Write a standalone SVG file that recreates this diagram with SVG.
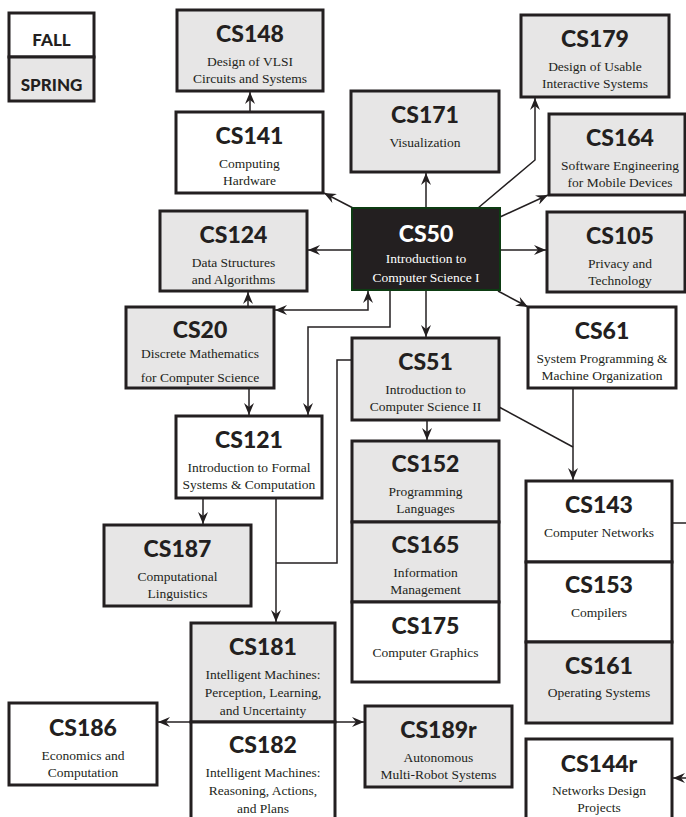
<svg xmlns="http://www.w3.org/2000/svg" width="686" height="817" viewBox="0 0 686 817">
<style>
.fall{fill:#ffffff;stroke:#231f20;stroke-width:3}
.spring{fill:#e7e6e6;stroke:#231f20;stroke-width:3}
.core{fill:#231f20;stroke:#0d3b12;stroke-width:2}
.t{font-family:Lato,"Open Sans",sans-serif;font-weight:900;font-size:23px;fill:#231f20;text-anchor:middle}
.s{font-family:"Liberation Serif",serif;font-size:13.5px;fill:#231f20;text-anchor:middle}
.w{fill:#ffffff}
.lg{font-family:Lato,"Open Sans",sans-serif;font-weight:900;font-size:17px;fill:#231f20;text-anchor:middle}
.c{fill:none;stroke:#231f20;stroke-width:1.5}
</style>
<defs>
<marker id="ah" viewBox="0 0 12 10" refX="12" refY="5" markerWidth="12" markerHeight="10" markerUnits="userSpaceOnUse" orient="auto-start-reverse">
<path d="M0,0 L12,5 L0,10 L4,5 Z" fill="#231f20"/>
</marker>
</defs>
<g id="legend">
<rect class="fall" x="9" y="13" width="85" height="44"/>
<rect class="spring" x="9" y="57" width="85" height="44"/>
<text class="lg" x="51.5" y="46">FALL</text>
<text class="lg" x="51.5" y="91">SPRING</text>
</g>
<g id="connectors">
<line class="c" x1="250" y1="112" x2="250" y2="92" marker-end="url(#ah)"/>
<line class="c" x1="426" y1="208" x2="426" y2="173" marker-end="url(#ah)"/>
<polyline class="c" points="478,208 535,160 535,98" marker-end="url(#ah)"/>
<line class="c" x1="500" y1="217" x2="548" y2="195" marker-end="url(#ah)"/>
<line class="c" x1="353" y1="208" x2="324" y2="193" marker-end="url(#ah)"/>
<line class="c" x1="352" y1="250" x2="308" y2="250" marker-end="url(#ah)"/>
<line class="c" x1="500" y1="250" x2="546" y2="250" marker-end="url(#ah)"/>
<line class="c" x1="498" y1="291" x2="528" y2="307" marker-end="url(#ah)"/>
<line class="c" x1="426" y1="290" x2="426" y2="337" marker-end="url(#ah)"/>
<polyline class="c" points="275,310 368,310 368,291" marker-start="url(#ah)" marker-end="url(#ah)"/>
<line class="c" x1="248" y1="307" x2="248" y2="292" marker-end="url(#ah)"/>
<polyline class="c" points="390,290 390,327 308,327 308,415" marker-end="url(#ah)"/>
<line class="c" x1="249" y1="388" x2="249" y2="415" marker-end="url(#ah)"/>
<line class="c" x1="203" y1="498" x2="203" y2="524" marker-end="url(#ah)"/>
<line class="c" x1="276" y1="498" x2="276" y2="622" marker-end="url(#ah)"/>
<polyline class="c" points="352,360 337,360 337,563 276,563"/>
<line class="c" x1="427" y1="420" x2="427" y2="440" marker-end="url(#ah)"/>
<polyline class="c" points="499,407 573,447"/>
<line class="c" x1="573" y1="388" x2="573" y2="480" marker-end="url(#ah)"/>
<line class="c" x1="672" y1="523" x2="686" y2="523"/>
<line class="c" x1="686" y1="778" x2="673" y2="778" marker-end="url(#ah)"/>
<line class="c" x1="158" y1="722" x2="364" y2="722" marker-start="url(#ah)" marker-end="url(#ah)"/>
</g>
<g id="CS148"><rect class="spring" x="177" y="10" width="146" height="81"/><text class="t" x="250" y="42">CS148</text><text class="s" x="250" y="66">Design of VLSI</text><text class="s" x="250" y="83">Circuits and Systems</text></g>
<g id="CS141"><rect class="fall" x="176" y="112" width="147" height="81"/><text class="t" x="249.5" y="144">CS141</text><text class="s" x="249.5" y="168">Computing</text><text class="s" x="249.5" y="185">Hardware</text></g>
<g id="CS171"><rect class="spring" x="351" y="91" width="148" height="81"/><text class="t" x="425" y="123">CS171</text><text class="s" x="425" y="147">Visualization</text></g>
<g id="CS179"><rect class="spring" x="521" y="15" width="148" height="82"/><text class="t" x="595" y="47">CS179</text><text class="s" x="595" y="71">Design of Usable</text><text class="s" x="595" y="88">Interactive Systems</text></g>
<g id="CS164"><rect class="spring" x="549" y="114" width="136" height="81"/><text class="t" x="620" y="146">CS164</text><text class="s" x="620" y="170">Software Engineering</text><text class="s" x="620" y="187">for Mobile Devices</text></g>
<g id="CS124"><rect class="spring" x="160" y="211" width="147" height="80"/><text class="t" x="233.5" y="243">CS124</text><text class="s" x="233.5" y="267">Data Structures</text><text class="s" x="233.5" y="284">and Algorithms</text></g>
<g id="CS50"><rect class="core" x="352" y="208" width="148" height="82"/><text class="t w" x="426" y="242">CS50</text><text class="s w" x="426" y="263">Introduction to</text><text class="s w" x="426" y="282">Computer Science I</text></g>
<g id="CS105"><rect class="spring" x="547" y="212" width="138" height="80"/><text class="t" x="620" y="244">CS105</text><text class="s" x="620" y="268">Privacy and</text><text class="s" x="620" y="285">Technology</text></g>
<g id="CS20"><rect class="spring" x="126" y="307" width="148" height="81"/><text class="t" x="200" y="338">CS20</text><text class="s" x="200" y="358">Discrete Mathematics</text><text class="s" x="200" y="382">for Computer Science</text></g>
<g id="CS61"><rect class="fall" x="528" y="307" width="148" height="81"/><text class="t" x="602" y="339">CS61</text><text class="s" x="602" y="363">System Programming &amp;</text><text class="s" x="602" y="380">Machine Organization</text></g>
<g id="CS51"><rect class="spring" x="352" y="338" width="147" height="82"/><text class="t" x="425.5" y="370">CS51</text><text class="s" x="425.5" y="394">Introduction to</text><text class="s" x="425.5" y="411">Computer Science II</text></g>
<g id="CS121"><rect class="fall" x="176" y="416" width="146" height="82"/><text class="t" x="249" y="448">CS121</text><text class="s" x="249" y="472">Introduction to Formal</text><text class="s" x="249" y="489">Systems &amp; Computation</text></g>
<g id="CS152"><rect class="spring" x="352" y="441" width="147" height="81"/><text class="t" x="425.5" y="472">CS152</text><text class="s" x="425.5" y="496">Programming</text><text class="s" x="425.5" y="513">Languages</text></g>
<g id="CS165"><rect class="spring" x="352" y="522" width="147" height="80"/><text class="t" x="425.5" y="553">CS165</text><text class="s" x="425.5" y="577">Information</text><text class="s" x="425.5" y="594">Management</text></g>
<g id="CS175"><rect class="fall" x="352" y="602" width="147" height="80"/><text class="t" x="425.5" y="634">CS175</text><text class="s" x="425.5" y="657">Computer Graphics</text></g>
<g id="CS143"><rect class="fall" x="526" y="481" width="146" height="81"/><text class="t" x="599" y="513">CS143</text><text class="s" x="599" y="537">Computer Networks</text></g>
<g id="CS153"><rect class="fall" x="526" y="562" width="146" height="80"/><text class="t" x="599" y="593">CS153</text><text class="s" x="599" y="617">Compilers</text></g>
<g id="CS161"><rect class="spring" x="526" y="642" width="146" height="81"/><text class="t" x="599" y="674">CS161</text><text class="s" x="599" y="697">Operating Systems</text></g>
<g id="CS187"><rect class="spring" x="104" y="525" width="147" height="81"/><text class="t" x="177.5" y="557">CS187</text><text class="s" x="177.5" y="581">Computational</text><text class="s" x="177.5" y="598">Linguistics</text></g>
<g id="CS181"><rect class="spring" x="191" y="623" width="144" height="99"/><text class="t" x="263" y="655">CS181</text><text class="s" x="263" y="679">Intelligent Machines:</text><text class="s" x="263" y="697">Perception, Learning,</text><text class="s" x="263" y="715">and Uncertainty</text></g>
<g id="CS182"><rect class="fall" x="191" y="722" width="144" height="110"/><text class="t" x="263" y="753">CS182</text><text class="s" x="263" y="777">Intelligent Machines:</text><text class="s" x="263" y="795">Reasoning, Actions,</text><text class="s" x="263" y="813">and Plans</text></g>
<g id="CS186"><rect class="fall" x="9" y="703" width="148" height="82"/><text class="t" x="83" y="736">CS186</text><text class="s" x="83" y="760">Economics and</text><text class="s" x="83" y="777">Computation</text></g>
<g id="CS189r"><rect class="spring" x="365" y="706" width="147" height="81"/><text class="t" x="438.5" y="738">CS189r</text><text class="s" x="438.5" y="762">Autonomous</text><text class="s" x="438.5" y="779">Multi-Robot Systems</text></g>
<g id="CS144r"><rect class="fall" x="526" y="739" width="146" height="95"/><text class="t" x="599" y="772">CS144r</text><text class="s" x="599" y="795">Networks Design</text><text class="s" x="599" y="812">Projects</text></g>
</svg>
